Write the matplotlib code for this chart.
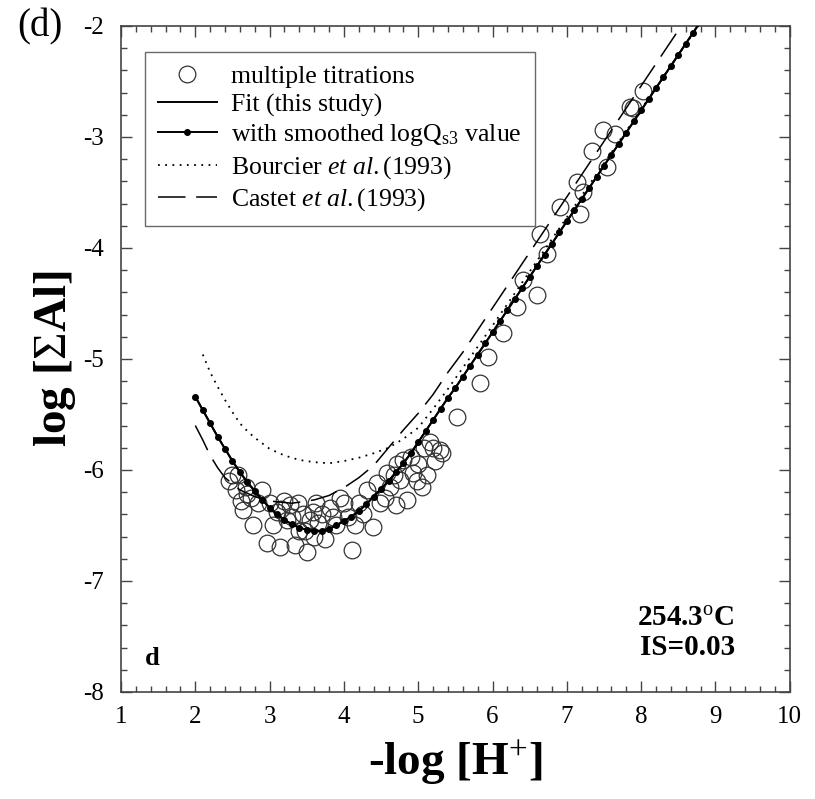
import matplotlib
matplotlib.use("Agg")
from matplotlib import pyplot as plt
from matplotlib.ticker import MultipleLocator
import numpy as np

plt.rcParams['font.family'] = ['Liberation Serif', 'DejaVu Serif']
plt.rcParams['mathtext.fontset'] = 'custom'
plt.rcParams['mathtext.rm'] = 'Liberation Serif'
plt.rcParams['mathtext.it'] = 'Liberation Serif:italic'
plt.rcParams['mathtext.bf'] = 'Liberation Serif:bold'
plt.rcParams['axes.unicode_minus'] = False

# multiple titrations (open circles)
titr_x = [2.50, 2.55, 2.62, 2.70, 2.64, 2.78, 2.85, 2.90, 2.96, 3.05,
          3.10, 3.14, 3.20, 3.23, 3.27, 3.34, 3.40, 3.45, 3.50, 3.54,
          3.60, 3.62, 3.70, 3.75, 3.81, 3.90, 3.95, 4.05, 4.11, 4.20,
          4.31, 4.39, 4.49, 4.58, 4.62, 4.70, 4.76, 4.80, 4.85, 4.93,
          5.00, 5.05, 5.12, 5.16, 5.20, 5.29, 5.52, 5.83, 5.94, 6.14,
          6.33, 6.41, 6.60, 6.64, 6.73, 6.91, 7.14, 7.18, 7.22, 7.34,
          7.49, 7.54, 7.65, 7.85, 7.89, 8.03,
          2.45, 2.58, 2.75, 2.68, 3.00, 3.15, 3.30, 3.38, 3.48, 3.58,
          3.65, 3.85, 4.00, 4.15, 4.25, 4.45, 4.55, 4.68, 4.72, 4.90,
          4.98, 5.08, 5.22, 5.32]
titr_y = [-6.05, -6.18, -6.28, -6.22, -6.36, -6.50, -6.30, -6.18, -6.66, -6.50,
          -6.38, -6.69, -6.28, -6.45, -6.32, -6.68, -6.55, -6.40, -6.74, -6.45,
          -6.60, -6.30, -6.40, -6.62, -6.34, -6.50, -6.25, -6.42, -6.72, -6.30,
          -6.18, -6.51, -6.30, -6.03, -6.15, -6.32, -6.09, -5.91, -6.27, -6.03,
          -5.95, -6.15, -6.05, -5.75, -5.80, -5.82, -5.52, -5.22, -4.98, -4.77,
          -4.53, -4.29, -4.42, -3.87, -4.05, -3.63, -3.41, -3.69, -3.50, -3.13,
          -2.94, -3.27, -2.97, -2.73, -2.74, -2.59,
          -6.10, -6.05, -6.25, -6.15, -6.30, -6.35, -6.42, -6.30, -6.55, -6.38,
          -6.48, -6.42, -6.30, -6.50, -6.40, -6.12, -6.25, -6.05, -5.95, -5.88,
          -6.10, -5.80, -5.92, -5.85]

# fit (this study) / smoothed logQs3 curve
fit_x = [2.0, 2.1, 2.2, 2.3, 2.4, 2.5, 2.6, 2.7, 2.8, 2.9,
         3.0, 3.1, 3.2, 3.3, 3.4, 3.5, 3.6, 3.7, 3.8, 3.9,
         4.0, 4.1, 4.2, 4.3, 4.4, 4.5, 4.6, 4.7, 4.8, 4.9,
         5.0, 5.1, 5.2, 5.3, 5.4, 5.5, 5.6, 5.7, 5.8, 5.9,
         6.0, 6.1, 6.2, 6.3, 6.4, 6.5, 6.6, 6.7, 6.8, 6.9,
         7.0, 7.1, 7.2, 7.3, 7.4, 7.5, 7.6, 7.7, 7.8, 7.9,
         8.0, 8.1, 8.2, 8.3, 8.4, 8.5, 8.6, 8.7, 8.8]
fit_y = [-5.34, -5.46, -5.58, -5.70, -5.81, -5.92, -6.02, -6.11, -6.19, -6.27,
         -6.34, -6.40, -6.45, -6.49, -6.52, -6.54, -6.55, -6.55, -6.53, -6.50,
         -6.46, -6.42, -6.37, -6.31, -6.24, -6.17, -6.10, -6.02, -5.94, -5.85,
         -5.75, -5.65, -5.55, -5.45, -5.35, -5.26, -5.16, -5.06, -4.96, -4.86,
         -4.76, -4.66, -4.56, -4.46, -4.36, -4.26, -4.16, -4.06, -3.96, -3.86,
         -3.76, -3.66, -3.56, -3.46, -3.36, -3.26, -3.16, -3.06, -2.96, -2.86,
         -2.76, -2.66, -2.56, -2.46, -2.36, -2.26, -2.16, -2.06, -1.96]

# Bourcier et al. (1993)
bour_x = [2.1, 2.2, 2.3, 2.4, 2.5, 2.6, 2.7, 2.8, 2.9, 3.0, 3.2, 3.4, 3.6, 3.8,
          4.0, 4.2, 4.4, 4.6, 4.8, 5.0, 5.2, 5.4, 5.6, 5.8, 6.0, 6.4, 6.8,
          7.2, 7.6, 8.0, 8.4, 8.8]
bour_y = [-4.96, -5.12, -5.25, -5.37, -5.48, -5.58, -5.65, -5.71, -5.76, -5.81,
          -5.87, -5.91, -5.93, -5.94, -5.92, -5.89, -5.85, -5.80, -5.72, -5.62,
          -5.45, -5.27, -5.08, -4.89, -4.70, -4.31, -3.92, -3.53, -3.14, -2.75,
          -2.36, -1.97]

# Castet et al. (1993)
cast_x = [2.0, 2.1, 2.2, 2.3, 2.4, 2.6, 2.8, 3.0, 3.3, 3.6, 3.8, 4.0, 4.2,
          4.4, 4.6, 4.8, 5.0, 5.2, 5.4, 5.6, 5.8, 6.0, 6.4, 6.8, 7.2, 7.6,
          8.0, 8.4, 8.6]
cast_y = [-5.60, -5.73, -5.87, -5.98, -6.07, -6.18, -6.24, -6.28, -6.30, -6.27,
          -6.23, -6.16, -6.07, -5.96, -5.80, -5.64, -5.49, -5.32, -5.12, -4.94,
          -4.74, -4.54, -4.14, -3.74, -3.34, -2.94, -2.54, -2.14, -1.94]

fig = plt.figure(figsize=(8.15, 7.99), dpi=100)
ax = fig.add_axes([0.1485, 0.134, 0.8205, 0.8335])

ax.plot(titr_x, titr_y, 'o', markersize=12, markerfacecolor='none',
        markeredgecolor='#333333', markeredgewidth=0.9,
        label='multiple titrations', zorder=2)
ax.plot(fit_x, fit_y, '-', color='black', linewidth=1.4,
        label='Fit (this study)', zorder=3)
ax.plot(fit_x, fit_y, '-', color='black', linewidth=1.4, marker='o',
        markersize=4, label=r'with smoothed logQ$_{\rm s3}$ value', zorder=4)
ax.plot(bour_x, bour_y, color='black', linewidth=1.3, linestyle=(0, (1, 3)),
        label=r'Bourcier $\it{et\ al.}$(1993)', zorder=3)
ax.plot(cast_x, cast_y, color='black', linewidth=1.1, linestyle=(0, (18, 7)),
        label=r'Castet $\it{et\ al.}$(1993)', zorder=3)

ax.set_xlim(1, 10)
ax.set_ylim(-8, -2)
ax.xaxis.set_major_locator(MultipleLocator(1))
ax.xaxis.set_minor_locator(MultipleLocator(0.2))
ax.yaxis.set_major_locator(MultipleLocator(1))
ax.yaxis.set_minor_locator(MultipleLocator(0.2))
ax.tick_params(which='both', direction='in', top=True, right=True,
               labelsize=18, width=1, color='#444444')
ax.tick_params(which='major', length=8, pad=10)
ax.tick_params(axis='y', which='major', pad=12)
ax.tick_params(which='minor', length=4)
for sp in ax.spines.values():
    sp.set_linewidth(1.2)
    sp.set_color('#444444')

ax.set_xlabel(r'-log [H$^{+}$]', fontsize=34, fontweight='bold', labelpad=8)
ax.set_ylabel(r'log [$\Sigma$Al]', fontsize=34, fontweight='bold', labelpad=4)

leg = ax.legend(loc='upper left', bbox_to_anchor=(0.036, 0.961), fontsize=18.5,
                frameon=True, fancybox=False, edgecolor='#444444',
                handlelength=2.3, handletextpad=0.55, labelspacing=0.22,
                borderpad=0.5, borderaxespad=0)
leg.get_frame().set_linewidth(1.0)

ax.text(0.036, 0.04, 'd', transform=ax.transAxes, fontsize=19,
        fontweight='bold', ha='left', va='baseline')
ax.text(0.918, 0.10, r'254.3$^{\rm o}$C', transform=ax.transAxes, fontsize=21,
        fontweight='bold', ha='right', va='baseline')
ax.text(0.918, 0.056, 'IS=0.03', transform=ax.transAxes, fontsize=21,
        fontweight='bold', ha='right', va='baseline')
fig.text(0.021, 0.966, '(d)', fontsize=28, ha='left', va='center')

fig.savefig('out.png', dpi=100)
